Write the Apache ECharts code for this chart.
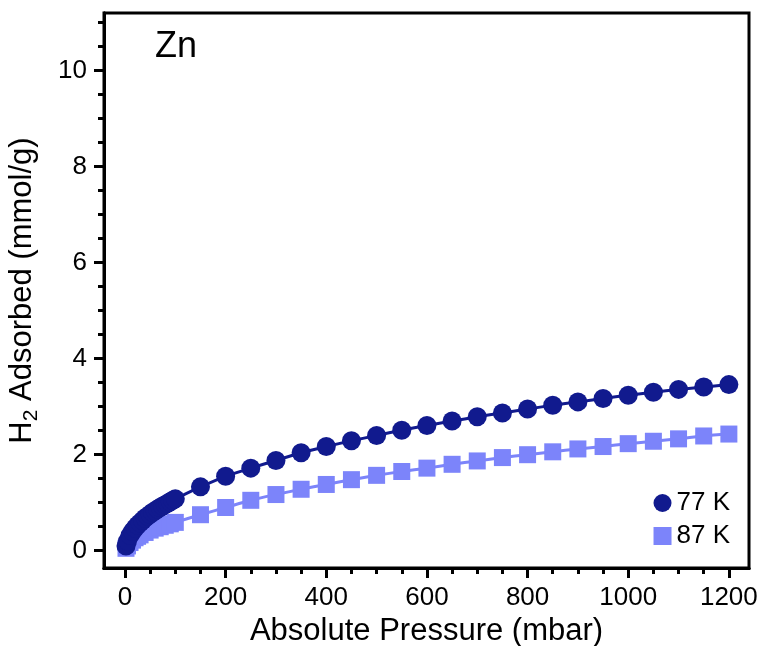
<!DOCTYPE html>
<html><head><meta charset="utf-8">
<script src="https://cdn.jsdelivr.net/npm/echarts@6/dist/echarts.min.js"></script>
<style>html,body{margin:0;padding:0;background:#fff}#c{width:762px;height:646px}</style>
</head><body><div id="c"></div>
<script>
const pressure77 = [2,5,10,15,20,25,30,35,40,45,50,55,60,65,70,75,80,85,90,95,100,150,200,250,300,350,400,450,500,550,600,650,700,750,800,850,900,950,1000,1050,1100,1150,1200];
const uptake77 = [0.10,0.20,0.32,0.40,0.47,0.53,0.58,0.63,0.68,0.72,0.76,0.80,0.83,0.87,0.90,0.93,0.96,0.99,1.02,1.05,1.08,1.33,1.55,1.72,1.88,2.04,2.17,2.29,2.40,2.51,2.61,2.70,2.79,2.87,2.95,3.03,3.10,3.17,3.24,3.30,3.36,3.41,3.46];
const pressure87 = [2,5,10,15,20,25,30,40,50,60,70,80,90,100,150,200,250,300,350,400,450,500,550,600,650,700,750,800,850,900,950,1000,1050,1100,1150,1200];
const uptake87 = [0.05,0.10,0.17,0.22,0.27,0.30,0.33,0.38,0.43,0.47,0.50,0.53,0.56,0.59,0.75,0.90,1.05,1.17,1.28,1.38,1.48,1.57,1.65,1.72,1.80,1.87,1.94,2.00,2.06,2.12,2.17,2.23,2.28,2.33,2.39,2.43];
const xMajor = [0,200,400,600,800,1000,1200];
const xMinor = [0,50,100,150,200,250,300,350,400,450,500,550,600,650,700,750,800,850,900,950,1000,1050,1100,1150,1200];
const yMajor = [0,2,4,6,8,10];
const yMinor = [0,0.5,1,1.5,2,2.5,3,3.5,4,4.5,5,5.5,6,6.5,7,7.5,8,8.5,9,9.5,10,10.5,11];
const seriesNames = ['77 K','87 K'];
const colors = ['#111a8e','#7c84fa'];

const FONT = '"Liberation Sans", Arial, sans-serif';
const X_MIN = -41.7, X_MAX = 1240, Y_MIN = -0.36, Y_MAX = 11.2;
const zip = (a,b) => a.map((v,i)=>[v,b[i]]);

const chart = echarts.init(document.getElementById('c'), null, {renderer:'canvas'});
const axisBase = {
  type:'value', splitLine:{show:false},
  axisLine:{show:true, onZero:false, lineStyle:{color:'#000', width:3}}
};
chart.setOption({
  animation:false,
  textStyle:{fontFamily:FONT},
  grid:{left:104, right:13, top:13, bottom:78, show:true, borderColor:'#000', borderWidth:3, containLabel:false, outerBoundsMode:'none'},
  title:{text:'Zn', left:150, top:24, textStyle:{fontFamily:FONT, fontSize:36, fontWeight:'normal', color:'#000'}},
  legend:{
    right:27, bottom:92, orient:'vertical', itemGap:7, itemWidth:18, itemHeight:18,
    data:[{name:seriesNames[0], icon:'circle'},{name:seriesNames[1], icon:'rect'}],
    textStyle:{fontFamily:FONT, fontSize:26, color:'#000'}
  },
  xAxis:[
    Object.assign({}, axisBase, {
      min:X_MIN, max:X_MAX, position:'bottom',
      name:'Absolute Pressure (mbar)', nameLocation:'middle', nameGap:46,
      nameTextStyle:{fontFamily:FONT, fontSize:31, color:'#000'},
      axisTick:{show:true, inside:false, length:10, lineStyle:{color:'#000', width:3}, customValues:xMajor},
      axisLabel:{show:true, margin:17, fontFamily:FONT, fontSize:26, color:'#000', customValues:xMajor, formatter:v=>String(v)},
      minorTick:{show:false}
    }),
    Object.assign({}, axisBase, {
      min:X_MIN, max:X_MAX, position:'bottom',
      axisTick:{show:true, inside:false, length:6, lineStyle:{color:'#000', width:3}, customValues:xMinor},
      axisLabel:{show:false}
    })
  ],
  yAxis:[
    Object.assign({}, axisBase, {
      min:Y_MIN, max:Y_MAX, position:'left',
      name:'{a|H}{s|2}{a| Adsorbed (mmol/g)}', nameLocation:'middle', nameGap:62, nameRotate:90,
      nameTextStyle:{fontFamily:FONT, fontSize:31, color:'#000',
        rich:{a:{fontFamily:FONT, fontSize:31, color:'#000'}, s:{fontFamily:FONT, fontSize:21, color:'#000', verticalAlign:'bottom', padding:[18,0,0,0]}}},
      axisTick:{show:true, inside:false, length:10, lineStyle:{color:'#000', width:3}, customValues:yMajor},
      axisLabel:{show:true, margin:17, fontFamily:FONT, fontSize:26, color:'#000', customValues:yMajor, formatter:v=>String(v)}
    }),
    Object.assign({}, axisBase, {
      min:Y_MIN, max:Y_MAX, position:'left',
      axisTick:{show:true, inside:false, length:6, lineStyle:{color:'#000', width:3}, customValues:yMinor},
      axisLabel:{show:false}
    })
  ],
  series:[
    {name:seriesNames[1], type:'line', data:zip(pressure87, uptake87), smooth:0.3,
     symbol:'rect', symbolSize:17, itemStyle:{color:colors[1]}, lineStyle:{color:colors[1], width:3}, z:2},
    {name:seriesNames[0], type:'line', data:zip(pressure77, uptake77), smooth:0.3,
     symbol:'circle', symbolSize:19, itemStyle:{color:colors[0]}, lineStyle:{color:colors[0], width:3}, z:3}
  ]
});
</script></body></html>
